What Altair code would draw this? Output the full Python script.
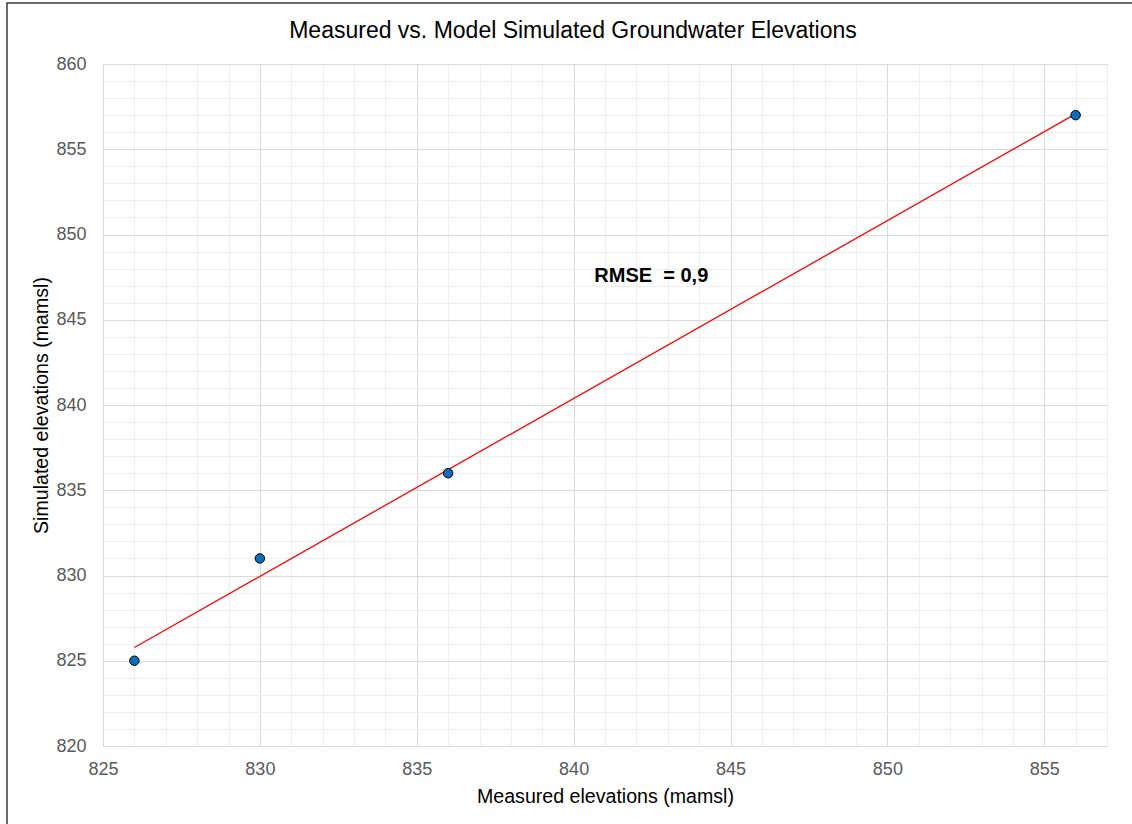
import altair as alt
import pandas as pd

# Data
measured = [826, 830, 836, 856]
simulated = [825, 831, 836, 857]

annotation_text = ["RMSE\u00a0 = 0,9"]
annotation_x = [840.66]
annotation_y = [847.2]

title_text = ["Measured vs. Model Simulated Groundwater Elevations"]

x_domain = [825, 857]
y_domain = [820, 860]
x_major = [825, 830, 835, 840, 845, 850, 855]
y_major = [820, 825, 830, 835, 840, 845, 850, 855, 860]
x_minor = list(range(825, 858))
y_minor = list(range(820, 861))

df = pd.DataFrame({"measured": measured, "simulated": simulated})
ann = pd.DataFrame({"label": annotation_text, "x": annotation_x, "y": annotation_y})
ttl = pd.DataFrame({"t": title_text})

FONT = "Liberation Sans"

xs = alt.Scale(domain=x_domain, nice=False, zero=False)
ys = alt.Scale(domain=y_domain, nice=False, zero=False)

# minor grid layer (axes with only grid)
minor = alt.Chart(df).mark_point(opacity=0).encode(
    x=alt.X("measured:Q", scale=xs,
            axis=alt.Axis(values=x_minor, grid=True, gridColor="#eeeeee", gridWidth=1,
                          labels=False, ticks=False, domain=False, title=None, orient="bottom")),
    y=alt.Y("simulated:Q", scale=ys,
            axis=alt.Axis(values=y_minor, grid=True, gridColor="#eeeeee", gridWidth=1,
                          labels=False, ticks=False, domain=False, title=None, orient="left")),
)

major = alt.Chart(df).mark_point(opacity=0).encode(
    x=alt.X("measured:Q", scale=xs,
            axis=alt.Axis(values=x_major, grid=True, gridColor="#d9d9d9", gridWidth=1,
                          ticks=False, domain=False, labelFont=FONT, labelFontSize=18,
                          labelColor="#595959", labelPadding=28, labelBaseline="alphabetic",
                          labelFlush=False,
                          title="Measured elevations (mamsl)", titleFont=FONT, titleFontSize=19.6,
                          titleFontWeight="normal", titleColor="#000000",
                          titleY=56.7, titleBaseline="alphabetic", orient="bottom")),
    y=alt.Y("simulated:Q", scale=ys,
            axis=alt.Axis(values=y_major, grid=True, gridColor="#d9d9d9", gridWidth=1,
                          ticks=False, domain=False, labelFont=FONT, labelFontSize=18,
                          labelColor="#595959", labelPadding=17, labelFlush=False,
                          title="Simulated elevations (mamsl)", titleFont=FONT, titleFontSize=19.6,
                          titleFontWeight="normal", titleColor="#000000",
                          titleX=-56, titleBaseline="alphabetic", orient="left")),
)

line = alt.Chart(df).transform_regression("measured", "simulated").mark_line(
    color="#ff0000", strokeWidth=1.3
).encode(
    x=alt.X("measured:Q", scale=xs, axis=None),
    y=alt.Y("simulated:Q", scale=ys, axis=None),
)

points = alt.Chart(df).mark_point(
    shape="circle", filled=True, fill="#0a6ebd", stroke="#000000", strokeWidth=1,
    size=90, opacity=1
).encode(
    x=alt.X("measured:Q", scale=xs, axis=None),
    y=alt.Y("simulated:Q", scale=ys, axis=None),
)

text = alt.Chart(ann).mark_text(
    font=FONT, fontSize=20, fontWeight="bold", color="#000000",
    align="left", baseline="alphabetic"
).encode(
    x=alt.X("x:Q", scale=xs, axis=None),
    y=alt.Y("y:Q", scale=ys, axis=None),
    text="label:N",
)

title = alt.Chart(ttl).mark_text(
    font=FONT, fontSize=23, fontWeight="normal", color="#000000",
    align="center", baseline="alphabetic"
).encode(
    x=alt.value(470), y=alt.value(-25.7), text="t:N"
)

frame = alt.Chart(ann).mark_rect(
    fill=None, fillOpacity=0, stroke="#3a3a3a", strokeWidth=1.5
).encode(
    x=alt.value(-96), x2=alt.value(1040), y=alt.value(-61), y2=alt.value(775)
)

chart = alt.layer(minor, major, line, points, text, title, frame).resolve_axis(
    x="independent", y="independent"
).properties(
    width=1004,
    height=682,
    padding={"left": 103, "top": 64, "right": 25, "bottom": 78},
    autosize=alt.AutoSizeParams(type="none"),
).configure_view(
    stroke="#000000", strokeWidth=1.5
).configure(background="#ffffff")

chart.save("out.html", embed_options={"renderer": "svg", "actions": False})
